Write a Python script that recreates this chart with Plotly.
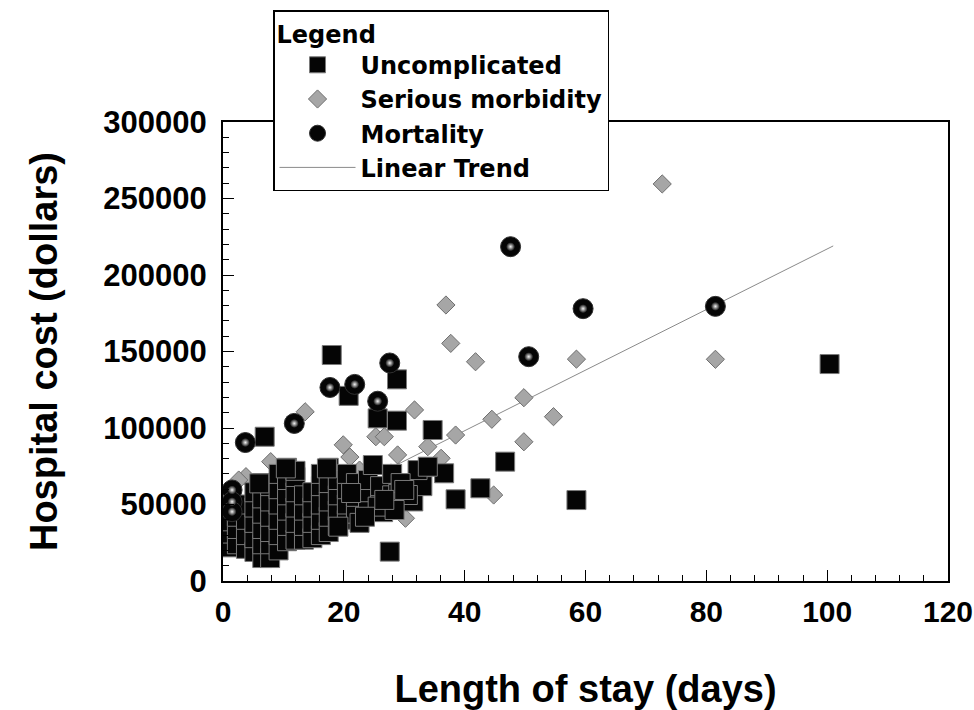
import plotly.graph_objects as go

# ---------------- data ----------------
# Uncomplicated: length of stay (days) and hospital cost (dollars)
unc_days = [
    1.0, 1.0, 1.0,
    2.3, 2.3, 2.3,
    3.8, 3.8, 3.8, 3.8,
    5.2, 5.2, 5.2, 5.2, 5.2,
    6.5, 6.5, 6.5, 6.5, 6.5, 6.5,
    7.8, 7.8, 7.8, 7.8, 7.8, 7.8,
    9.2, 9.2, 9.2, 9.2, 9.2, 9.2,
    10.6, 10.6, 10.6, 10.6, 10.6, 10.6,
    12.0, 12.0, 12.0, 12.0, 12.0, 12.0,
    13.4, 13.4, 13.4, 13.4,
    14.8, 14.8, 14.8, 14.8,
    16.2, 16.2, 16.2, 16.2, 16.2,
    17.5, 17.5, 17.5, 17.5, 17.5,
    19.0, 19.0, 19.0, 19.0,
    20.5, 20.5, 20.5, 20.5,
    22.0, 22.0, 22.0,
    24.0, 24.0, 24.0,
    26.0, 26.0, 26.5,
    28.0, 28.0, 29.0,
    31.5, 33.0,
    18.0, 28.8, 20.8, 25.6, 28.8, 34.7, 6.9, 46.7, 36.6, 42.6,
    38.5, 58.5, 100.4, 27.6, 32.2, 24.8, 30.6, 21.2, 22.6, 25.6,
    28.4, 33.9, 29.4, 30.0, 26.7, 23.5, 19.1, 17.2, 10.4, 6.0,
]
unc_costs = [
    22000, 31000, 39000,
    24000, 34000, 42000,
    21000, 30000, 40000, 50000,
    19000, 28000, 38000, 48000, 58000,
    15000, 24000, 34000, 44000, 54000, 64000,
    15000, 24000, 32000, 42000, 52000, 62000,
    20000, 30000, 40000, 50000, 60000, 70000,
    26000, 36000, 46000, 56000, 66000, 74000,
    27000, 38000, 48000, 58000, 68000, 72000,
    27000, 36000, 46000, 56000,
    28000, 38000, 48000, 58000,
    30000, 40000, 50000, 62000, 70000,
    32000, 42000, 52000, 64000, 74000,
    36000, 46000, 56000, 66000,
    40000, 50000, 60000, 70000,
    44000, 55000, 64000,
    46000, 58000, 66000,
    50000, 62000, 45000,
    56000, 70000, 57000,
    52000, 62000,
    147700, 131800, 121000, 106300, 104800, 98700, 94300, 78000, 70400, 60600,
    53400, 52900, 141800, 19200, 72500, 75800, 56200, 57500, 38000, 48600,
    46400, 74700, 64000, 59500, 53000, 42000, 35500, 73600, 73600, 63800,
]

# Serious morbidity
ser_days = [
    72.7, 36.9, 37.7, 41.8, 58.5, 49.8, 44.5, 54.7, 38.5, 49.8,
    44.8, 81.5, 31.7, 13.6, 19.9, 21.0, 25.3, 26.7, 28.9, 27.8,
    22.9, 30.2, 33.9, 36.1, 3.8, 7.9, 2.6, 22.6,
]
ser_costs = [
    259500, 180400, 155300, 143300, 145000, 119800, 105700, 107400, 95400, 91000,
    56200, 144900, 111800, 110600, 89000, 81000, 94300, 94300, 82400, 70600,
    70600, 41000, 87800, 80200, 68200, 78000, 66000, 72500,
]

# Mortality
mor_days = [1.5, 1.5, 1.5, 3.7, 11.8, 17.7, 21.8, 25.6, 27.6, 47.6, 50.6, 59.6, 81.5]
mor_costs = [59500, 51800, 45300, 90500, 103000, 126500, 128500, 117500,
             142500, 218500, 146600, 178000, 179500]

# Linear trend end points
trend_days = [1, 101]
trend_costs = [21000, 219000]

x_ticks = [0, 20, 40, 60, 80, 100, 120]
y_ticks = [0, 50000, 100000, 150000, 200000, 250000, 300000]

FONT = "Liberation Sans, Arial, Helvetica, sans-serif"
LEGFONT = "DejaVu Sans, Verdana, sans-serif"

fig = go.Figure()

fig.add_trace(go.Scatter(
    x=trend_days, y=trend_costs, mode="lines", name="Linear Trend",
    line=dict(color="#8a8a8a", width=1), legendrank=4,
))
fig.add_trace(go.Scatter(
    x=ser_days, y=ser_costs, mode="markers", name="Serious morbidity",
    marker=dict(symbol="diamond", size=14, color="#a6a6a6",
                line=dict(color="#6e6e6e", width=1)),
    legendrank=2,
))
fig.add_trace(go.Scatter(
    x=unc_days, y=unc_costs, mode="markers", name="Uncomplicated",
    marker=dict(symbol="square", size=19, color="#050505",
                line=dict(color="#7a7a7a", width=1)),
    legendrank=1,
))
fig.add_trace(go.Scatter(
    x=mor_days, y=mor_costs, mode="markers", name="Mortality",
    marker=dict(symbol="circle", size=20, color="#050505",
                line=dict(color="#303030", width=1)),
    legendrank=3,
))
# soft highlight on the spheres
fig.add_trace(go.Scatter(
    x=mor_days, y=mor_costs, mode="markers", showlegend=False, hoverinfo="skip",
    marker=dict(symbol="circle", size=9, color="#050505", line=dict(width=0),
                gradient=dict(type="radial", color="#f4f4f4")),
))

axis_common = dict(
    showline=True, linewidth=2, linecolor="black", mirror=True,
    showgrid=False, zeroline=False,
    ticks="inside", ticklen=11, tickwidth=1, tickcolor="black",
    ticklabeloverflow="allow",
)

fig.update_xaxes(
    range=[0, 120], tickvals=x_ticks, ticktext=[str(v) for v in x_ticks],
    tickfont=dict(family=FONT, size=30, color="black", weight="bold"),
    ticklabelstandoff=3,
    minor=dict(dtick=4, tick0=0, ticks="inside", ticklen=6, tickcolor="black", tickwidth=1),
    title=dict(text="Length of stay (days)", standoff=49,
               font=dict(family=FONT, size=38, color="black", weight="bold")),
    **axis_common,
)
fig.update_yaxes(
    range=[0, 300000], tickvals=y_ticks, ticktext=[str(v) for v in y_ticks],
    tickfont=dict(family=FONT, size=31, color="black", weight="bold"),
    ticklabelstandoff=8,
    minor=dict(dtick=10000, tick0=0, ticks="inside", ticklen=6, tickcolor="black", tickwidth=1),
    title=dict(text="Hospital cost (dollars)", standoff=34,
               font=dict(family=FONT, size=38, color="black", weight="bold")),
    **axis_common,
)

fig.update_layout(
    width=974, height=710,
    margin=dict(l=223, r=26, t=122, b=129, autoexpand=False),
    plot_bgcolor="white", paper_bgcolor="white",
    legend=dict(
        x=0.069, y=1.244, xanchor="left", yanchor="top",
        bgcolor="white", bordercolor="black", borderwidth=1.5,
        font=dict(family=LEGFONT, size=24, color="black", weight="bold"),
        title=dict(text="Legend", font=dict(family=LEGFONT, size=24, color="black", weight="bold")),
        itemwidth=76, tracegroupgap=0,
    ),
    showlegend=True,
)

fig.write_html(
    "out.html",
    config={"displayModeBar": False},
    post_script="document.body.style.margin='0px';document.body.style.overflow='hidden';",
)
